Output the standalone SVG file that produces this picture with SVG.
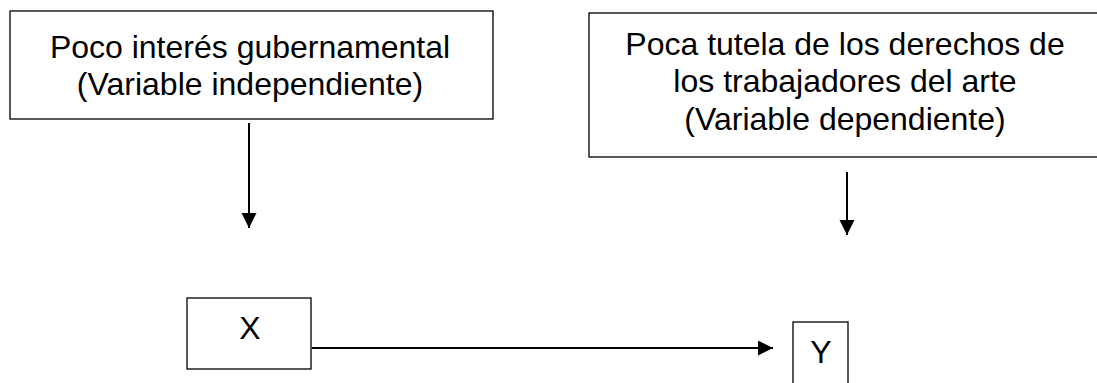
<svg xmlns="http://www.w3.org/2000/svg" width="1097" height="383" viewBox="0 0 1097 383">
  <defs>
    <style>
      .box { fill: #ffffff; stroke: #000000; stroke-width: 1.3; }
      .lbl { font-family: "Liberation Sans", Arial, sans-serif; font-size: 32px; fill: #000000; text-anchor: middle; }
      .conn { stroke: #000000; stroke-width: 2; fill: none; }
    </style>
    <marker id="arrow" markerUnits="userSpaceOnUse" markerWidth="16" markerHeight="16" refX="15" refY="7.5" orient="auto">
      <path d="M0,0 L15,7.5 L0,15 z" fill="#000000"/>
    </marker>
  </defs>
  <rect width="1097" height="383" fill="#ffffff"/>
  <g id="node-independiente">
    <rect class="box" x="10" y="11" width="483" height="108"/>
    <text class="lbl" x="250" y="58">Poco interés gubernamental</text>
    <text class="lbl" x="250" y="95">(Variable independiente)</text>
  </g>
  <g id="node-dependiente">
    <rect class="box" x="589" y="13" width="520" height="144"/>
    <text class="lbl" x="845" y="55">Poca tutela de los derechos de</text>
    <text class="lbl" x="845" y="92">los trabajadores del arte</text>
    <text class="lbl" x="845" y="130">(Variable dependiente)</text>
  </g>
  <g id="node-x">
    <rect class="box" x="187" y="298" width="124" height="71"/>
    <text class="lbl" x="250" y="339">X</text>
  </g>
  <g id="node-y">
    <rect class="box" x="793" y="322" width="55" height="70"/>
    <text class="lbl" x="821" y="363">Y</text>
  </g>
  <g id="connectors">
    <line class="conn" x1="249" y1="123" x2="249" y2="228" marker-end="url(#arrow)"/>
    <line class="conn" x1="847" y1="172" x2="847" y2="235" marker-end="url(#arrow)"/>
    <line class="conn" x1="312" y1="348" x2="773" y2="348" marker-end="url(#arrow)"/>
  </g>
</svg>
